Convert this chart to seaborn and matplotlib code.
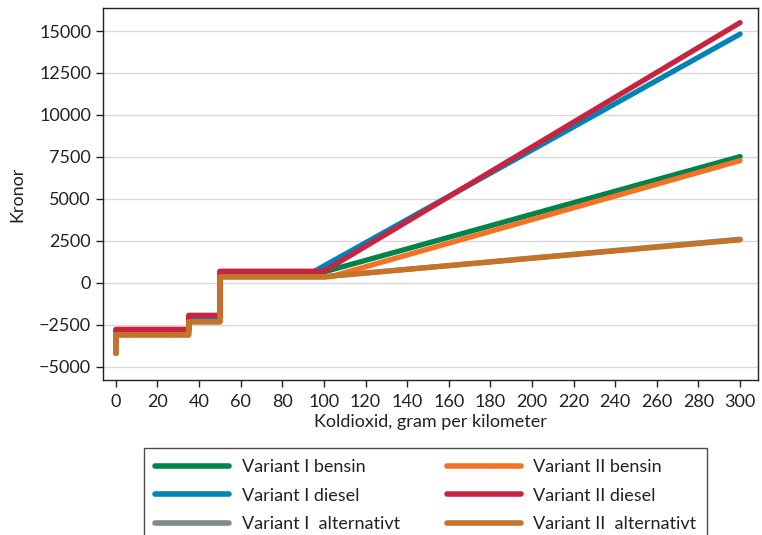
import pandas as pd
import matplotlib
matplotlib.use('Agg')
import matplotlib.pyplot as plt
import seaborn as sns
from matplotlib.lines import Line2D

# Break points (g CO2/km) and amounts (kroner) for each series
x_lav = [0, 0, 35, 35, 50, 50, 100, 300]
x_diesel_I = [0, 35, 35, 50, 50, 95, 300]
x_diesel_II = [0, 35, 35, 50, 50, 100, 300]
x_bensin_II = [0, 0, 35, 35, 50, 50, 103, 300]

y_I_bensin = [-4200, -2850, -2850, -2050, -2050, 650, 650, 7520]
y_I_diesel = [-2830, -2830, -2030, -2030, 660, 660, 14820]
y_I_alt = [-4200, -3100, -3100, -2320, -2320, 360, 360, 2600]
y_II_bensin = [-4200, -3100, -3100, -2320, -2320, 360, 360, 7280]
y_II_diesel = [-2770, -2770, -1935, -1935, 690, 690, 15500]
y_II_alt = [-4200, -3100, -3100, -2320, -2320, 360, 360, 2560]

series = ['Variant I bensin', 'Variant I diesel', 'Variant I  alternativt',
          'Variant II bensin', 'Variant II diesel', 'Variant II  alternativt']
colors = ['#00844B', '#0083B5', '#7F8A85', '#F47125', '#C8243F', '#C47329']

xs = [x_lav, x_diesel_I, x_lav, x_bensin_II, x_diesel_II, x_lav]
ys = [y_I_bensin, y_I_diesel, y_I_alt, y_II_bensin, y_II_diesel, y_II_alt]

rows = []
for name, xv, yv in zip(series, xs, ys):
    for i, (a, b) in enumerate(zip(xv, yv)):
        rows.append({'serie': name, 'x': a, 'y': b, 'order': i})
df = pd.DataFrame(rows)

sns.set_style("white")
plt.rcParams['font.family'] = ['Lato', 'DejaVu Sans']

fig = plt.figure(figsize=(7.62, 5.35), dpi=100)
ax = fig.add_axes([0.135, 0.29, 0.86, 0.695])

sns.lineplot(data=df, x='x', y='y', hue='serie', hue_order=series,
             palette=dict(zip(series, colors)), sort=False, estimator=None,
             units='serie', linewidth=3.8, solid_capstyle='round', ax=ax,
             legend=False)

ax.set_xlim(-6.25, 308.7)
ax.set_ylim(-5780, 16370)
ax.set_xticks(range(0, 301, 20))
ax.set_yticks(range(-5000, 15001, 2500))
ax.yaxis.grid(True, color='#d9d9d9', linewidth=1)
ax.xaxis.grid(False)
ax.set_axisbelow(True)
for s in ax.spines.values():
    s.set_color('#222222')
    s.set_linewidth(1)
ax.tick_params(axis='both', direction='out', length=5, width=1,
               color='#222222', labelsize=13, labelcolor='#222222',
               left=True, bottom=True)
ax.tick_params(axis='x', pad=5)
ax.set_xlabel('Koldioxid, gram per kilometer', fontsize=13, color='#222222', labelpad=3)
ax.set_ylabel('Kronor', fontsize=13, color='#222222', labelpad=10)

handles = [Line2D([], [], color=c, linewidth=4) for c in colors]
leg = fig.legend(handles, series, loc='upper left', bbox_to_anchor=(0.189, 0.162),
                 ncol=2, frameon=True, fancybox=False, fontsize=13,
                 handlelength=4.1, handletextpad=0.7, columnspacing=2.6,
                 labelspacing=0.7, borderpad=0.6, borderaxespad=0)
leg.get_frame().set_edgecolor('#222222')
leg.get_frame().set_linewidth(1)
for t in leg.get_texts():
    t.set_color('#222222')

fig.savefig('out.png', dpi=100)
